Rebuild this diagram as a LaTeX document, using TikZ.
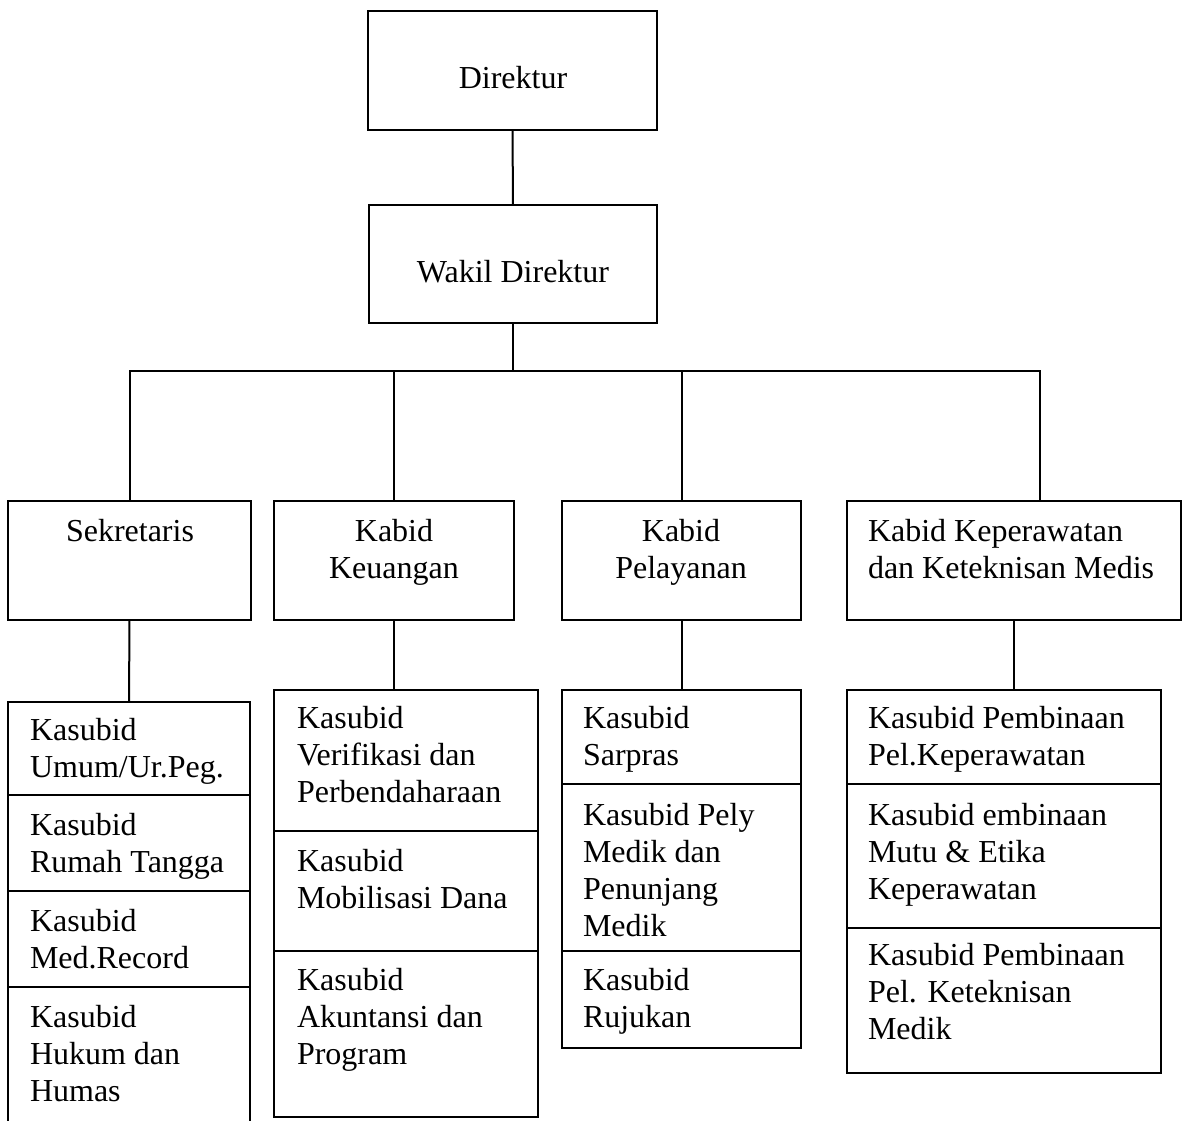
\documentclass[tikz,border=0pt]{standalone}
\usepackage{fontspec}
\setmainfont{Liberation Serif}
\newcommand\orgbox[5]{\node[box, minimum width={(#4-#2)*1pt}, minimum height={(#5-#3)*1pt}] (#1) at (#2,#3) {};}
\newcommand\ltext[4]{\node[lt] (#1) at (#2,{#3-25.9}) {\strut #4};}
\newcommand\ctext[4]{\node[ct] (#1) at (#2,{#3-25.9}) {\strut #4};}
\begin{document}
\begin{tikzpicture}[x=1pt,y=-1pt,
  box/.style={draw, line width=2pt, inner sep=0pt, outer sep=0pt, anchor=north west},
  txt/.style={inner sep=0pt, outer sep=0pt, font=\fontsize{32}{37}\selectfont},
  lt/.style={txt, align=left, anchor=north west},
  ct/.style={txt, align=center, anchor=north},
  conn/.style={line width=2pt}]
\useasboundingbox (0,0) rectangle (1183,1120);

% top boxes
\orgbox{dir}{368}{11}{657}{130}
\orgbox{wd}{369}{205}{657}{323}
\ctext{tdir}{513}{88}{Direktur}
\ctext{twd}{513}{282}{Wakil Direktur}

% second row
\orgbox{sek}{8}{501}{251}{620}
\orgbox{kk}{274}{501}{514}{620}
\orgbox{pl}{562}{501}{801}{620}
\orgbox{kp}{847}{501}{1181}{620}
\ctext{tsek}{130}{541}{Sekretaris}
\ctext{tkk}{394}{541}{Kabid\\Keuangan}
\ctext{tpl}{681}{541}{Kabid\\Pelayanan}
\ltext{tkp}{868}{541}{Kabid Keperawatan\\dan Keteknisan Medis}

% Sekretaris stack
\orgbox{s1}{8}{702}{250}{795}
\orgbox{s2}{8}{795}{250}{891}
\orgbox{s3}{8}{891}{250}{987}
\orgbox{s4}{8}{987}{250}{1125}
\ltext{ts1}{30}{740}{Kasubid\\Umum/Ur.Peg.}
\ltext{ts2}{30}{835}{Kasubid\\Rumah Tangga}
\ltext{ts3}{30}{931}{Kasubid\\Med.Record}
\ltext{ts4}{30}{1027}{Kasubid\\Hukum dan\\Humas}

% Keuangan stack
\orgbox{k1}{274}{690}{538}{831}
\orgbox{k2}{274}{831}{538}{951}
\orgbox{k3}{274}{951}{538}{1117}
\ltext{tk1}{297}{728}{Kasubid\\Verifikasi dan\\Perbendaharaan}
\ltext{tk2}{297}{871}{Kasubid\\Mobilisasi Dana}
\ltext{tk3}{297}{990}{Kasubid\\Akuntansi dan\\Program}

% Pelayanan stack
\orgbox{p1}{562}{690}{801}{784}
\orgbox{p2}{562}{784}{801}{951}
\orgbox{p3}{562}{951}{801}{1048}
\ltext{tp1}{583}{728}{Kasubid\\Sarpras}
\ltext{tp2}{583}{825}{Kasubid Pely\\Medik dan\\Penunjang\\Medik}
\ltext{tp3}{583}{990}{Kasubid\\Rujukan}

% Keperawatan stack
\orgbox{e1}{847}{690}{1161}{784}
\orgbox{e2}{847}{784}{1161}{928}
\orgbox{e3}{847}{928}{1161}{1073}
\ltext{te1}{868}{728}{Kasubid Pembinaan\\Pel.Keperawatan}
\ltext{te2}{868}{825}{Kasubid embinaan\\Mutu \& Etika\\Keperawatan}
\ltext{te3}{868}{965}{Kasubid Pembinaan\\Pel. Keteknisan\\Medik}

% connectors
\coordinate (bus) at (513,371);
\coordinate (kpin) at (1040,501);
\draw[conn] (dir.south) -- (wd.north);
\draw[conn] (wd.south) -- (bus);
\draw[conn] (sek.north) |- (bus) -| (kpin);
\draw[conn] (kk.north) -- (kk.north |- bus);
\draw[conn] (pl.north) -- (pl.north |- bus);
\draw[conn] (sek.south) -- (s1.north);
\draw[conn] (kk.south) -- (kk.south |- k1.north);
\draw[conn] (pl.south) -- (pl.south |- p1.north);
\draw[conn] (kp.south) -- (kp.south |- e1.north);
\end{tikzpicture}
\end{document}
